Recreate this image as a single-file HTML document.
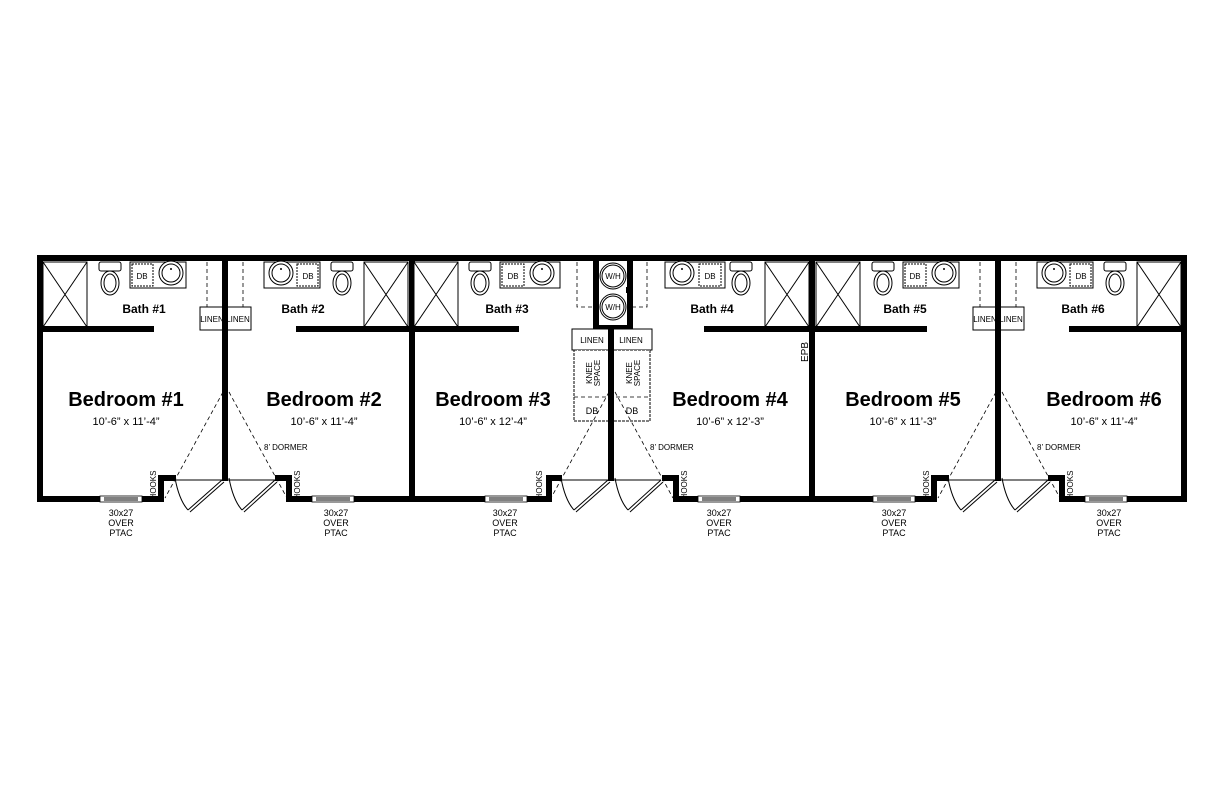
<!DOCTYPE html>
<html><head><meta charset="utf-8"><style>
html,body{margin:0;padding:0;background:#fff;}
svg{display:block;}
text{font-family:"Liberation Sans",sans-serif;fill:#000;}
.bed{font-size:20px;font-weight:bold;text-anchor:middle;}
.dim{font-size:11px;text-anchor:middle;}
.bath{font-size:12px;font-weight:bold;text-anchor:middle;}
.sm{font-size:8px;text-anchor:middle;}
.w{font-size:9px;text-anchor:middle;}
.wall{fill:none;stroke:#000;stroke-width:6;stroke-linecap:square;}
.thin{fill:none;stroke:#000;stroke-width:1;}
.dash{fill:none;stroke:#000;stroke-width:0.8;stroke-dasharray:4 3;}
.fx{fill:#fff;stroke:#000;stroke-width:1;}
</style></head><body>
<svg width="1224" height="792" viewBox="0 0 1224 792" xmlns="http://www.w3.org/2000/svg">
<defs>
<g id="toilet">
<rect class="fx" x="-11" y="0" width="22" height="9" rx="2"/>
<ellipse class="fx" cx="0" cy="21" rx="9" ry="12"/>
<ellipse class="fx" cx="0" cy="21" rx="6" ry="9"/>
</g>
<g id="sink">
<circle class="fx" cx="0" cy="0" r="12"/><circle class="fx" cx="0" cy="0" r="9"/>
<circle cx="0" cy="-4" r="1" fill="#000"/>
</g>
<g id="shower">
<rect class="fx" x="0" y="0" width="44" height="65"/>
<line class="thin" x1="0" y1="0" x2="44" y2="65"/><line class="thin" x1="44" y1="0" x2="0" y2="65"/>
</g>
<g id="win">
<rect x="0" y="-3" width="42" height="6" fill="#fff" stroke="#000" stroke-width="0.8"/>
<line class="thin" x1="4" y1="-1" x2="38" y2="-1"/><line class="thin" x1="4" y1="1" x2="38" y2="1"/>
</g>
<g id="ptac">
<text class="w" x="0" y="0">30x27</text><text class="w" x="0" y="10">OVER</text><text class="w" x="0" y="20">PTAC</text>
</g>
<g id="doors">
<line class="thin" x1="-50" y1="480" x2="50" y2="480" stroke="#777"/>
<path class="thin" d="M-50 478 Q-46 500 -37 510"/>
<line class="thin" x1="-3" y1="480" x2="-37" y2="510"/><line class="thin" x1="-1" y1="482" x2="-35" y2="512"/>
<path class="thin" d="M4 478 Q8 500 17 510"/>
<line class="thin" x1="50" y1="480" x2="17" y2="510"/><line class="thin" x1="52" y1="482" x2="19" y2="512"/>
<line class="dash" x1="-2" y1="392" x2="-60" y2="498"/>
<line class="dash" x1="4" y1="392" x2="62" y2="498"/>
</g>
<g id="unit12">
<use href="#shower" x="43" y="262"/>
<use href="#shower" x="364" y="262"/>
<use href="#toilet" x="110" y="262"/>
<rect class="fx" x="130" y="262" width="56" height="26"/>
<rect class="fx" x="132" y="264" width="21" height="22" stroke-dasharray="2 1"/>
<text class="sm" x="142" y="279">DB</text>
<use href="#sink" x="171" y="273"/>
<rect class="fx" x="264" y="262" width="56" height="26"/>
<rect class="fx" x="297" y="264" width="21" height="22" stroke-dasharray="2 1"/>
<text class="sm" x="308" y="279">DB</text>
<use href="#sink" x="281" y="273"/>
<use href="#toilet" x="342" y="262"/>
<line class="dash" x1="207" y1="262" x2="207" y2="307"/>
<line class="dash" x1="243" y1="262" x2="243" y2="307"/>
<rect class="fx" x="200" y="307" width="25" height="23"/>
<rect class="fx" x="225" y="307" width="26" height="23"/>
<text class="sm" x="212" y="322">LINEN</text><text class="sm" x="238" y="322">LINEN</text>
<path class="wall" d="M43 329 H151 M299 329 H408"/>
<path class="wall" d="M225 262 V478"/>
<path class="wall" d="M40 499 H161 V478 H173 M278 478 H289 V499 H410"/>
<use href="#doors" x="225"/>
<use href="#win" x="100" y="499"/>
<use href="#win" x="312" y="499"/>
<use href="#ptac" x="121" y="516"/>
<use href="#ptac" x="336" y="516"/>
<text class="sm" transform="translate(156,485) rotate(-90)">HOOKS</text>
<text class="sm" transform="translate(300,485) rotate(-90)">HOOKS</text>
<text style="font-size:8px" x="264" y="450">8’ DORMER</text>
</g>
</defs>

<path class="wall" d="M40 258 H1184 V499 M40 258 V499 M412 258 V499 M812 258 V499"/>

<use href="#unit12"/>
<text class="bath" x="144" y="313">Bath #1</text>
<text class="bath" x="303" y="313">Bath #2</text>
<text class="bed" x="126" y="406">Bedroom #1</text>
<text class="dim" x="126" y="425">10’-6” x 11’-4”</text>
<text class="bed" x="324" y="406">Bedroom #2</text>
<text class="dim" x="324" y="425">10’-6” x 11’-4”</text>

<use href="#unit12" transform="translate(773,0)"/>
<text class="bath" x="905" y="313">Bath #5</text>
<text class="bath" x="1083" y="313">Bath #6</text>
<text class="bed" x="903" y="406">Bedroom #5</text>
<text class="dim" x="903" y="425">10’-6” x 11’-3”</text>
<text class="bed" x="1104" y="406">Bedroom #6</text>
<text class="dim" x="1104" y="425">10’-6” x 11’-4”</text>

<use href="#shower" x="414" y="262"/>
<use href="#shower" x="765" y="262"/>
<use href="#toilet" x="480" y="262"/>
<rect class="fx" x="500" y="262" width="60" height="26"/>
<rect class="fx" x="502" y="264" width="22" height="22" stroke-dasharray="2 1"/>
<text class="sm" x="513" y="279">DB</text>
<use href="#sink" x="542" y="273"/>
<rect class="fx" x="665" y="262" width="60" height="26"/>
<rect class="fx" x="699" y="264" width="22" height="22" stroke-dasharray="2 1"/>
<text class="sm" x="710" y="279">DB</text>
<use href="#sink" x="682" y="273"/>
<use href="#toilet" x="741" y="262"/>
<path class="dash" d="M577 262 V307 H594 M647 262 V307 H630"/>
<circle class="fx" cx="613" cy="276" r="13"/><circle class="fx" cx="613" cy="276" r="11"/>
<circle class="fx" cx="613" cy="307" r="13"/><circle class="fx" cx="613" cy="307" r="11"/>
<text class="sm" x="613" y="279">W/H</text><text class="sm" x="613" y="310">W/H</text>
<rect x="626" y="287" width="4" height="6" fill="#000"/>
<path class="wall" d="M596 262 V328 H630 V262"/>
<text class="bath" x="507" y="313">Bath #3</text>
<text class="bath" x="712" y="313">Bath #4</text>
<rect class="fx" x="572" y="329" width="39" height="21"/>
<rect class="fx" x="611" y="329" width="41" height="21"/>
<text class="sm" x="592" y="343">LINEN</text><text class="sm" x="631" y="343">LINEN</text>
<rect class="fx" x="574" y="350" width="76" height="71" stroke-dasharray="3 1" fill="none"/>
<line class="dash" x1="574" y1="397" x2="650" y2="397"/>
<text class="sm" transform="translate(592,373) rotate(-90)">KNEE</text>
<text class="sm" transform="translate(600,373) rotate(-90)">SPACE</text>
<text class="sm" transform="translate(632,373) rotate(-90)">KNEE</text>
<text class="sm" transform="translate(640,373) rotate(-90)">SPACE</text>
<text class="w" x="592" y="414">DB</text><text class="w" x="632" y="414">DB</text>
<path class="wall" d="M414 329 H516 M707 329 H810"/>
<path class="wall" d="M611 329 V478"/>
<path class="wall" d="M412 499 H549 V478 H559 M665 478 H676 V499 H812"/>
<use href="#doors" x="611"/>
<use href="#win" x="485" y="499"/>
<use href="#win" x="698" y="499"/>
<use href="#ptac" x="505" y="516"/>
<use href="#ptac" x="719" y="516"/>
<text class="sm" transform="translate(542,485) rotate(-90)">HOOKS</text>
<text class="sm" transform="translate(687,485) rotate(-90)">HOOKS</text>
<text style="font-size:8px" x="650" y="450">8’ DORMER</text>
<text style="font-size:10px" transform="translate(808,352) rotate(-90)" text-anchor="middle">EPB</text>
<text class="bed" x="493" y="406">Bedroom #3</text>
<text class="dim" x="493" y="425">10’-6” x 12’-4”</text>
<text class="bed" x="730" y="406">Bedroom #4</text>
<text class="dim" x="730" y="425">10’-6” x 12’-3”</text>
</svg>
</body></html>
